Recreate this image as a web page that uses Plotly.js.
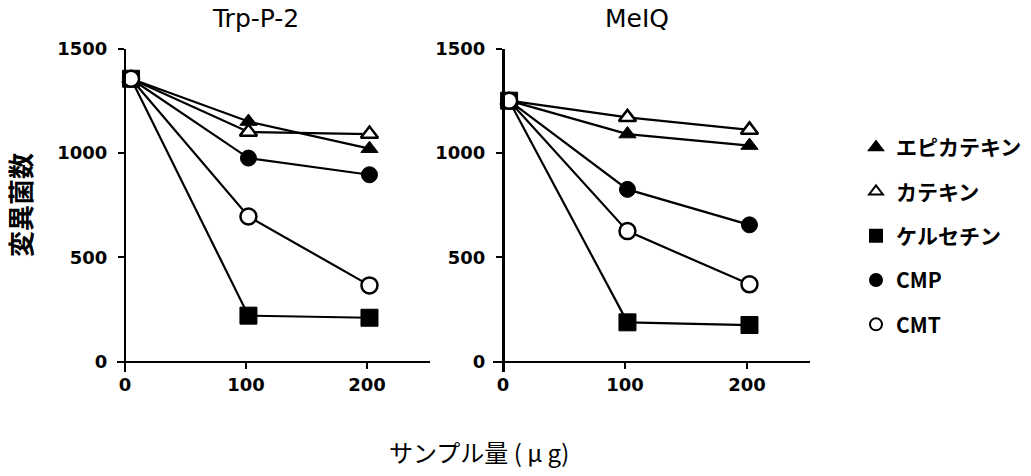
<!DOCTYPE html>
<html>
<head>
<meta charset="utf-8">
<script src="https://cdn.plot.ly/plotly-3.0.1.min.js"></script>
<style>html,body{margin:0;padding:0;background:#fff;}#chart{width:1031px;height:476px;}</style>
</head>
<body>
<div id="chart"></div>
<script>
// ---- data ----
const doses = [5, 102, 202];                 // サンプル量 (μg)
const seriesNames = ['エピカテキン', 'カテキン', 'ケルセチン', 'CMP', 'CMT'];
// Trp-P-2 panel
const trpEpicatechin = [1355, 1150, 1020];
const trpCatechin    = [1355, 1100, 1090];
const trpQuercetin   = [1355, 220, 210];
const trpCMP         = [1355, 975, 895];
const trpCMT         = [1355, 695, 365];
// MeIQ panel
const meiqEpicatechin = [1250, 1090, 1035];
const meiqCatechin    = [1250, 1170, 1110];
const meiqQuercetin   = [1250, 188, 175];
const meiqCMP         = [1250, 825, 655];
const meiqCMT         = [1250, 625, 370];
const panelTitles = ['Trp-P-2', 'MeIQ'];
const xTickVals = [0, 100, 200];
const yTickVals = [0, 500, 1000, 1500];
const yTitle = '変異菌数';
const xTitle = 'サンプル量 ( μ g)';

// ---- styling ----
const W = 1031, H = 476;
const px = v => v / W;
const py = v => 1 - v / H;
const styles = [
  {symbol: 'triangle-up', color: '#000', size: 15},
  {symbol: 'triangle-up', color: '#fff', size: 15},
  {symbol: 'square', color: '#000', size: 17},
  {symbol: 'circle', color: '#000', size: 16},
  {symbol: 'circle', color: '#fff', size: 16}
];
const panels = [
  {ax: '', series: [trpEpicatechin, trpCatechin, trpQuercetin, trpCMP, trpCMT]},
  {ax: '2', series: [meiqEpicatechin, meiqCatechin, meiqQuercetin, meiqCMP, meiqCMT]}
];
const traces = [];
// lines first (drawn below markers)
panels.forEach((p, pi) => {
  p.series.forEach((ys, si) => {
    traces.push({
      type: 'scatter', mode: 'lines', x: doses, y: ys,
      xaxis: 'x' + p.ax, yaxis: 'y' + p.ax,
      line: {color: '#000', width: 2.2}, showlegend: false, hoverinfo: 'skip',
      legendgroup: 'g' + si
    });
  });
});
// legend order: エピカテキン, カテキン, ケルセチン, CMP, CMT
panels.forEach((p, pi) => {
  p.series.forEach((ys, si) => {
    const st = styles[si];
    traces.push({
      type: 'scatter', mode: 'markers', x: doses, y: ys,
      xaxis: 'x' + p.ax, yaxis: 'y' + p.ax,
      name: seriesNames[si], legendgroup: 'g' + si, showlegend: pi === 0,
      marker: {symbol: st.symbol, color: st.color, size: st.size,
               line: {color: '#000', width: st.color === '#fff' ? 2.5 : 1}}
    });
  });
});

// panel geometry (pixels)
const geo = [
  {x0: 117, x1: 430, range: [-6.6, 252]},
  {x0: 493, x1: 810, range: [-8.2, 251.6]}
];
const yTop = 48.5, yBot = 372, yRange = [-50, 1500];
const tickFont = {family: 'DejaVu Sans', size: 18, color: '#000', weight: 'bold'};
const layout = {
  width: W, height: H,
  margin: {l: 0, r: 0, t: 0, b: 0},
  paper_bgcolor: '#fff', plot_bgcolor: 'rgba(0,0,0,0)',
  showlegend: true,
  legend: {
    x: px(856), y: py(127), xanchor: 'left', yanchor: 'top',
    font: {family: 'Noto Sans CJK JP', size: 21, color: '#000', weight: 'bold'},
    tracegroupgap: 14, traceorder: 'grouped', itemsizing: 'constant',
    bgcolor: 'rgba(0,0,0,0)'
  },
  annotations: [],
  font: {family: 'DejaVu Sans', color: '#000'}
};
const yDomain = [py(yBot), py(yTop)];
geo.forEach((g, i) => {
  const ax = i === 0 ? '' : String(i + 1);
  const xDomain = [px(g.x0), px(g.x1)];
  const xZero = xDomain[0] + (0 - g.range[0]) / (g.range[1] - g.range[0]) * (xDomain[1] - xDomain[0]);
  const yZero = yDomain[0] + (0 - yRange[0]) / (yRange[1] - yRange[0]) * (yDomain[1] - yDomain[0]);
  layout['xaxis' + ax] = {
    domain: xDomain, range: g.range, anchor: 'free', position: yZero,
    showgrid: false, zeroline: false, showline: true, linewidth: 2.5, linecolor: '#000',
    ticks: 'outside', ticklen: 6, tickwidth: 2, tickcolor: '#000',
    tickvals: xTickVals, ticktext: xTickVals.map(String), tickfont: tickFont,
    ticklabelstandoff: 0, fixedrange: true
  };
  layout['yaxis' + ax] = {
    domain: yDomain, range: yRange, anchor: 'free', position: xZero,
    showgrid: false, zeroline: false, showline: true, linewidth: 2.5, linecolor: '#000',
    ticks: 'outside', ticklen: 6, tickwidth: 2, tickcolor: '#000',
    tickvals: yTickVals, ticktext: yTickVals.map(String), tickfont: tickFont,
    ticklabelstandoff: 7, fixedrange: true
  };
});
const titleCenters = [255, 637];
panelTitles.forEach((t, i) => {
  layout.annotations.push({
    text: t, xref: 'paper', yref: 'paper', x: px(titleCenters[i]), y: py(19),
    xanchor: 'center', yanchor: 'middle', showarrow: false,
    font: {family: 'DejaVu Sans', size: 25, color: '#000'}
  });
});
layout.annotations.push({
  text: yTitle, xref: 'paper', yref: 'paper', x: px(19), y: py(205),
  xanchor: 'center', yanchor: 'middle', textangle: -90, showarrow: false,
  font: {family: 'Noto Sans CJK JP', size: 26, color: '#000', weight: 'bold'}
});
layout.annotations.push({
  text: xTitle, xref: 'paper', yref: 'paper', x: px(479), y: py(451),
  xanchor: 'center', yanchor: 'middle', showarrow: false,
  font: {family: 'Noto Sans CJK JP', size: 24, color: '#000'}
});
Plotly.newPlot('chart', traces, layout, {displayModeBar: false, staticPlot: true});
</script>
</body>
</html>
